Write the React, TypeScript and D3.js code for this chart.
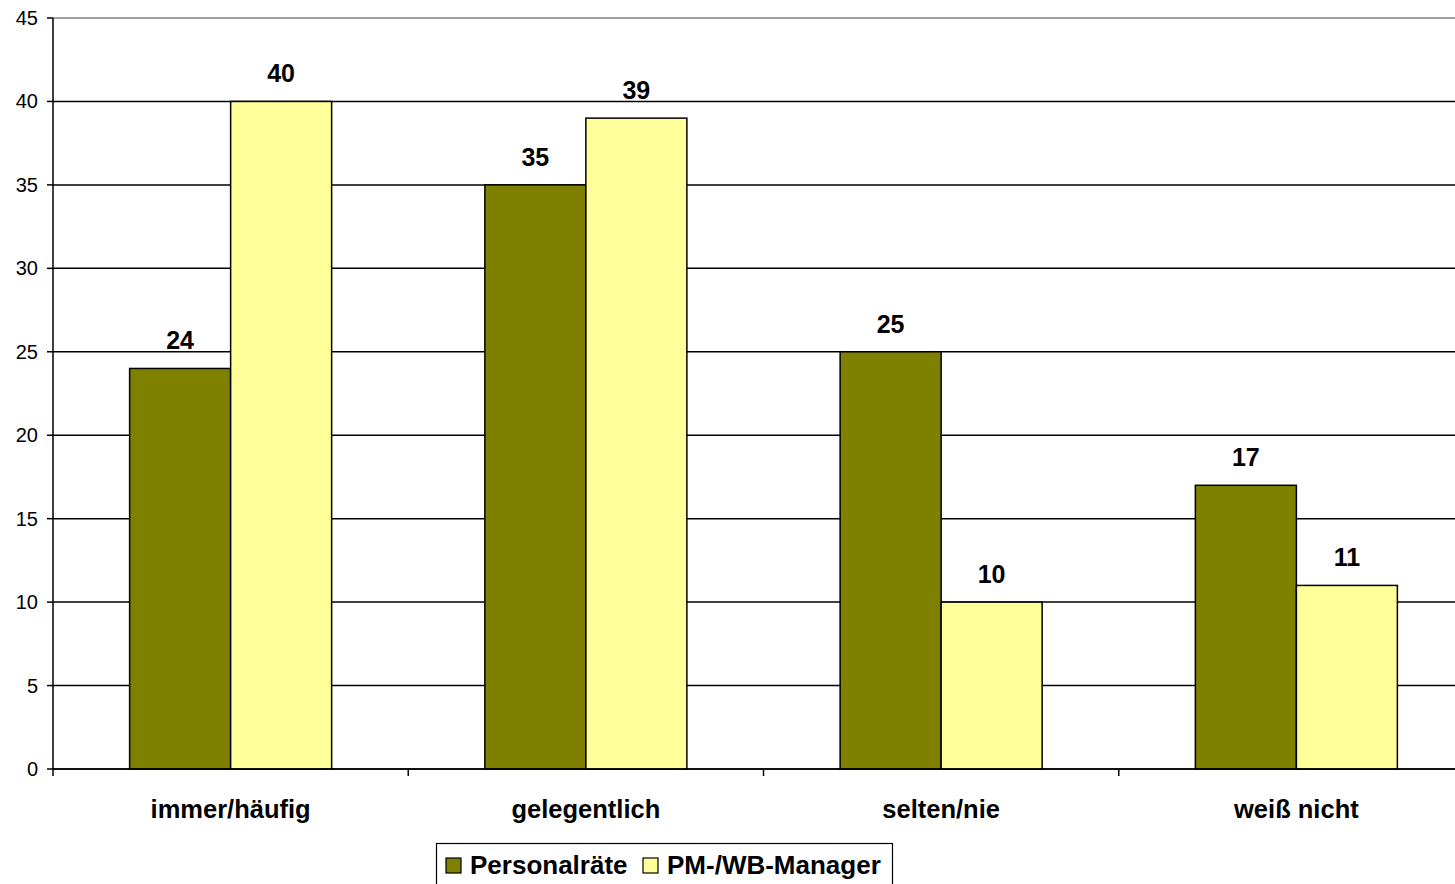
import React from "react";
import * as d3 from "d3";

const categories = ["immer/häufig", "gelegentlich", "selten/nie", "weiß nicht"];
const seriesNames = ["Personalräte", "PM-/WB-Manager"];
const personalraete = [24, 35, 25, 17];
const pmManager = [40, 39, 10, 11];
const yTicks = [0, 5, 10, 15, 20, 25, 30, 35, 40, 45];
const colors = ["#808000", "#FFFF99"];

const W = 1455;
const H = 884;
const left = 53;
const plotRight = 1474;
const top = 18;
const bottom = 769;

export default function App() {
  const x = d3.scaleBand<string>().domain(categories).range([left, plotRight]).paddingInner(0).paddingOuter(0);
  const y = d3.scaleLinear().domain([0, 45]).range([bottom, top]);
  const bw = 101;
  const series = [personalraete, pmManager];
  const font = "'Liberation Sans', Arial, sans-serif";

  return (
    <svg width={W} height={H} style={{ position: "absolute", left: 0, top: 0, background: "#fff" }} fontFamily={font}>
      {yTicks.map((t) => (
        <g key={t}>
          <line x1={left} x2={plotRight} y1={y(t)} y2={y(t)} stroke={t === 45 ? "#808080" : "#000"} strokeWidth={1.5} />
          <line x1={47} x2={left} y1={y(t)} y2={y(t)} stroke="#000" strokeWidth={1.5} />
          <text x={38} y={y(t) + 7} textAnchor="end" fontSize={20} fill="#000">{t}</text>
        </g>
      ))}
      {categories.map((c, i) => {
        const cx = (x(c) as number) + x.bandwidth() / 2;
        return (
          <g key={c}>
            {series.map((s, j) => {
              const bx = cx - bw + j * bw;
              return (
                <g key={j}>
                  <rect x={bx} y={y(s[i])} width={bw} height={bottom - y(s[i])} fill={colors[j]} stroke="#000" strokeWidth={1.5} />
                  <text x={bx + bw / 2} y={y(s[i]) - 19} textAnchor="middle" fontSize={25} fontWeight="bold">{s[i]}</text>
                </g>
              );
            })}
            <text x={cx} y={818} textAnchor="middle" fontSize={25.5} fontWeight="bold">{c}</text>
          </g>
        );
      })}
      {categories.map((c, i) => (
        <line key={"t" + i} x1={x(c)} x2={x(c)} y1={bottom} y2={776} stroke="#000" strokeWidth={1.5} />
      ))}
      <line x1={left} x2={left} y1={top} y2={bottom} stroke="#000" strokeWidth={1.5} />
      <line x1={left} x2={plotRight} y1={bottom} y2={bottom} stroke="#000" strokeWidth={1.5} />
      <g>
        <rect x={436.5} y={843.5} width={456} height={50} fill="#fff" stroke="#000" strokeWidth={1.2} />
        <rect x={446} y={858} width={15} height={15} fill={colors[0]} stroke="#000" strokeWidth={1.2} />
        <text x={470} y={874} fontSize={26} fontWeight="bold">{seriesNames[0]}</text>
        <rect x={643} y={858} width={15} height={15} fill={colors[1]} stroke="#000" strokeWidth={1.2} />
        <text x={667} y={874} fontSize={26} fontWeight="bold">{seriesNames[1]}</text>
      </g>
    </svg>
  );
}
